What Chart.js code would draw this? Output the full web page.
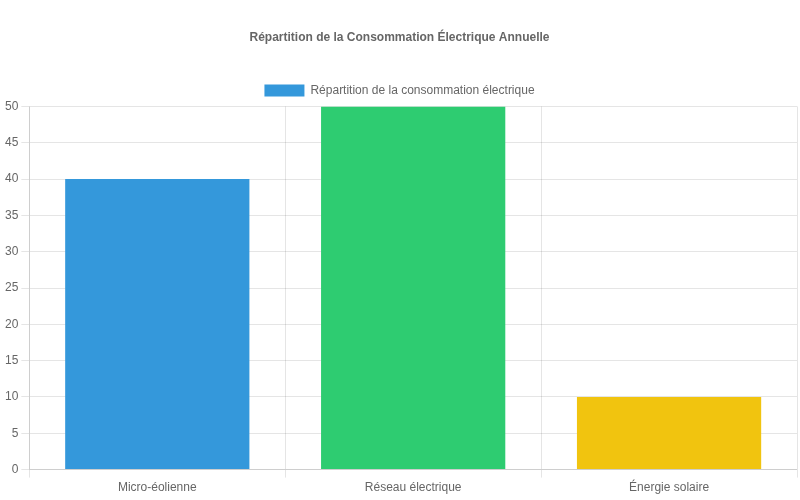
<!DOCTYPE html>
<html><head><meta charset="utf-8">
<script src="https://cdn.jsdelivr.net/npm/chart.js@4/dist/chart.umd.min.js"></script>
<style>html,body{margin:0;padding:0;background:#fff}#wrap{width:800px;height:500px}</style>
</head><body><div id="wrap"><canvas id="c"></canvas></div>
<script>
const categories = ["Micro-éolienne", "Réseau électrique", "Énergie solaire"];
const values = [40, 50, 10];
const colors = ["#3498db", "#2ecc71", "#f1c40f"];
const seriesLabel = "Répartition de la consommation électrique";
const titleText = "Répartition de la Consommation Électrique Annuelle";

Chart.defaults.font.family = "'Liberation Sans', Arial, Helvetica, sans-serif";
Chart.defaults.color = "#666";
new Chart(document.getElementById('c'), {
  type: 'bar',
  data: { labels: categories, datasets: [{ label: seriesLabel, data: values, backgroundColor: colors, borderColor: colors, borderWidth: 0 }] },
  options: {
    responsive: true, maintainAspectRatio: false, animation: false,
    layout: { padding: { left: 2, right: 3, bottom: 2, top: 0 } },
    plugins: {
      title: { display: true, text: titleText, font: { size: 12, weight: 'bold' }, padding: { top: 30, bottom: 30 } },
      legend: { display: true }
    },
    scales: {
      y: { beginAtZero: true, max: 50, ticks: { stepSize: 5 } },
      x: {}
    }
  }
});
</script></body></html>
